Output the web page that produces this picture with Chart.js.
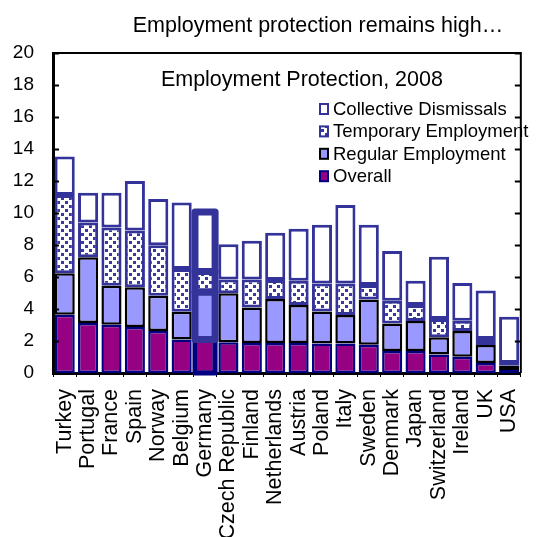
<!DOCTYPE html>
<html>
<head>
<meta charset="utf-8">
<script src="https://cdn.jsdelivr.net/npm/chart.js@4"></script>
<style>
  html, body { margin: 0; padding: 0; background: #fff; }
  #wrap { width: 547px; height: 537px; }
</style>
</head>
<body>
<div id="wrap"><canvas id="grafico" width="547" height="537"></canvas></div>
<script>
const countries = ["Turkey", "Portugal", "France", "Spain", "Norway", "Belgium", "Germany",
  "Czech Republic", "Finland", "Netherlands", "Austria", "Poland", "Italy", "Sweden",
  "Denmark", "Japan", "Switzerland", "Ireland", "UK", "USA"];

// stacked segments
const overall    = [3.64, 3.12, 3.02, 2.87, 2.62, 2.10, 2.09, 1.92, 1.88, 1.88, 1.88, 1.85, 1.85, 1.77, 1.37, 1.37, 1.15, 1.02, 0.63, 0.19];
const regular    = [2.59, 4.11, 2.44, 2.49, 2.21, 1.73, 2.97, 3.06, 2.22, 2.75, 2.37, 2.00, 1.77, 2.83, 1.73, 1.88, 1.08, 1.61, 1.12, 0.27];
const temporary  = [4.90, 2.17, 3.64, 3.54, 3.15, 2.67, 1.28, 0.87, 1.75, 1.18, 1.52, 1.75, 1.98, 0.90, 1.42, 1.00, 1.14, 0.64, 0.38, 0.17];
const collective = [2.40, 1.87, 2.17, 3.10, 2.89, 4.15, 3.72, 2.19, 2.42, 2.96, 3.25, 3.67, 4.90, 3.77, 3.11, 1.52, 3.90, 2.36, 3.02, 2.89];

const seriesNames = ["Overall", "Regular Employment", "Temporary Employment", "Collective Dismissals"];
const highlight = "Germany";

const mainTitle = "Employment protection remains high\u2026";
const innerTitle = "Employment Protection, 2008";

const FONT = "'Liberation Sans', Arial, sans-serif";
const PURPLE = "#960082";
const LAVENDER = "#9999ff";
const BLUE = "#333399";
const NAVY = "#000080";

// dotted fill for temporary employment
function crearPatron() {
  const c = document.createElement("canvas");
  c.width = 8; c.height = 8;
  const g = c.getContext("2d");
  g.fillStyle = "#ffffff";
  g.fillRect(0, 0, 8, 8);
  g.fillStyle = "#3a3a9e";
  g.fillRect(1, 1, 3, 3);
  g.fillRect(5, 5, 3, 3);
  return g.createPattern(c, "repeat");
}

const ctx = document.getElementById("grafico").getContext("2d");
const patron = crearPatron();

const fills = [PURPLE, LAVENDER, patron, "#ffffff"];
const borders = [NAVY, "#000000", BLUE, BLUE];

const decorado = {
  id: "decorado",
  afterDatasetsDraw(chart) {
    const c = chart.ctx;
    const gi = countries.indexOf(highlight);
    c.save();
    c.lineJoin = "round";
    for (let d = 0; d < 4; d++) {
      const el = chart.getDatasetMeta(d).data[gi];
      const p = el.getProps(["x", "y", "base", "width"], true);
      c.strokeStyle = d === 0 ? NAVY : BLUE;
      c.lineWidth = d === 0 ? 5 : 7;
      c.strokeRect(p.x - p.width / 2, p.y, p.width, p.base - p.y);
    }
    c.restore();
  },
  afterDraw(chart) {
    const c = chart.ctx;
    const a = chart.chartArea;
    const y = chart.scales.y;
    c.save();
    // frame top + right
    c.strokeStyle = "#000";
    c.lineWidth = 2;
    c.beginPath();
    c.moveTo(a.left, a.top);
    c.lineTo(a.right, a.top);
    c.lineTo(a.right, a.bottom);
    c.stroke();
    // inward ticks on both sides
    y.ticks.forEach(t => {
      const py = Math.round(y.getPixelForValue(t.value)) + 0.5;
      c.beginPath();
      c.moveTo(a.left, py); c.lineTo(a.left + 6, py);
      c.moveTo(a.right - 6, py); c.lineTo(a.right, py);
      c.stroke();
    });
    // titles
    c.fillStyle = "#000";
    c.textBaseline = "alphabetic";
    c.textAlign = "center";
    c.font = "21.5px " + FONT;
    c.fillText(mainTitle, (a.left + a.right) / 2 + 31, 32);
    c.font = "21.5px " + FONT;
    c.fillText(innerTitle, (a.left + a.right) / 2 + 15, 86);
    // legend, reversed order
    c.textAlign = "left";
    c.textBaseline = "middle";
    c.font = "18.5px " + FONT;
    const filas = [3, 2, 1, 0];
    filas.forEach((d, i) => {
      const cy = a.top + 56 + i * 22.4;
      c.fillStyle = fills[d];
      c.fillRect(320, cy - 5, 8, 10);
      c.strokeStyle = borders[d];
      c.lineWidth = 2;
      c.strokeRect(320, cy - 5, 8, 10);
      c.fillStyle = "#000";
      c.fillText(seriesNames[d], 333, cy + 1);
    });
    c.restore();
  }
};

const datasets = [overall, regular, temporary, collective].map((valores, d) => ({
  label: seriesNames[d],
  data: valores,
  backgroundColor: fills[d],
  borderColor: borders[d],
  borderWidth: d >= 2 ? 3 : 2.5,
  borderSkipped: false,
  barPercentage: 0.86,
  categoryPercentage: 1
}));

const grafico = new Chart(ctx, {
  type: "bar",
  data: { labels: countries, datasets: datasets },
  options: {
    responsive: false,
    animation: false,
    layout: { padding: { top: 53, right: 3, left: 0, bottom: 0 } },
    plugins: {
      legend: { display: false },
      title: { display: false },
      tooltip: { enabled: false }
    },
    scales: {
      x: {
        stacked: true,
        grid: { display: true, drawOnChartArea: false, tickLength: 4, color: "#000", lineWidth: 1 },
        border: { color: "#000", width: 3 },
        ticks: {
          color: "#000",
          font: { family: FONT, size: 21.5 },
          minRotation: 90,
          maxRotation: 90,
          autoSkip: false,
          padding: 12
        },
        afterFit(s) { s.height = 164; }
      },
      y: {
        stacked: true,
        min: 0,
        max: 20,
        grid: { display: false, drawTicks: false },
        border: { color: "#000", width: 3 },
        ticks: {
          stepSize: 2,
          color: "#000",
          font: { family: FONT, size: 19 },
          padding: 19
        },
        afterFit(s) { s.width = 53; }
      }
    }
  },
  plugins: [decorado]
});
</script>
</body>
</html>
